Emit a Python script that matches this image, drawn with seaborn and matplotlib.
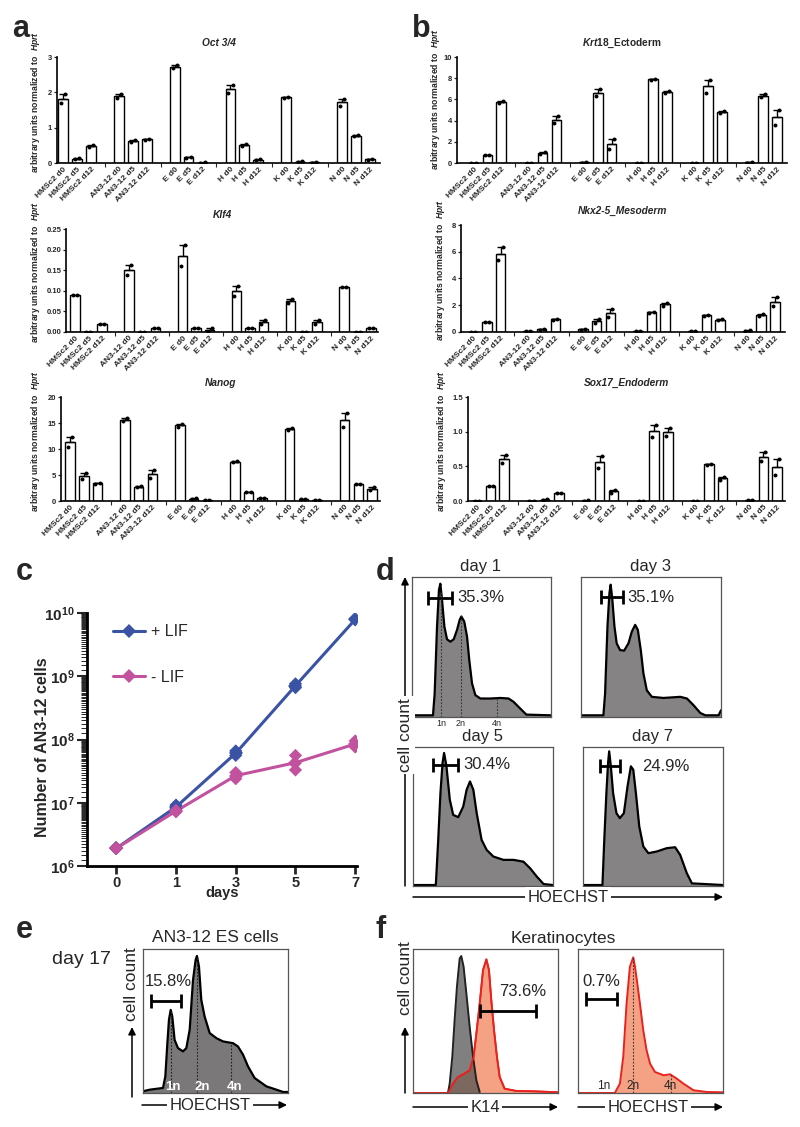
import numpy as np
import pandas as pd
import matplotlib
matplotlib.use("Agg")
import matplotlib.pyplot as plt
import seaborn as sns
from matplotlib.ticker import LogLocator, NullFormatter, FormatStrFormatter

# ------------------------------------------------------------------ data
SAMPLES = ["HMSc2 d0", "HMSc2 d5", "HMSc2 d12", "AN3-12 d0", "AN3-12 d5", "AN3-12 d12",
           "E d0", "E d5", "E d12", "H d0", "H d5", "H d12",
           "K d0", "K d5", "K d12", "N d0", "N d5", "N d12"]

OCT_A = [1.70, 0.11, 0.46, 1.83, 0.60, 0.66, 2.68, 0.14, 0.00, 1.98, 0.49, 0.08, 1.85, 0.03, 0.01, 1.62, 0.76, 0.08]
OCT_B = [1.94, 0.13, 0.50, 1.95, 0.64, 0.69, 2.76, 0.18, 0.02, 2.20, 0.53, 0.10, 1.88, 0.05, 0.03, 1.82, 0.78, 0.12]

KLF_A = [0.090, 0.000, 0.020, 0.138, 0.000, 0.010, 0.160, 0.010, 0.000, 0.088, 0.010, 0.020, 0.070, 0.000, 0.020, 0.110, 0.000, 0.010]
KLF_B = [0.090, 0.000, 0.020, 0.162, 0.000, 0.010, 0.210, 0.010, 0.009, 0.112, 0.010, 0.030, 0.080, 0.000, 0.030, 0.110, 0.000, 0.010]

NANOG_A = [10.3, 4.2, 3.3, 15.3, 2.6, 4.4, 14.3, 0.3, 0.1, 7.5, 1.70, 0.5, 13.7, 0.3, 0.1, 14.2, 3.2, 2.1]
NANOG_B = [12.4, 5.4, 3.5, 16.0, 2.9, 6.0, 14.8, 0.5, 0.1, 7.6, 1.75, 0.5, 14.1, 0.4, 0.1, 16.9, 3.3, 2.7]

KRT_A = [0.00, 0.75, 5.70, 0.00, 0.85, 3.80, 0.04, 6.30, 1.30, 0.00, 7.85, 6.60, 0.00, 6.65, 4.70, 0.04, 6.20, 3.60]
KRT_B = [0.03, 0.80, 5.85, 0.03, 1.00, 4.40, 0.06, 6.95, 2.30, 0.03, 7.95, 6.75, 0.02, 7.85, 4.95, 0.06, 6.50, 5.00]

NKX_A = [0.00, 0.73, 5.35, 0.07, 0.18, 0.93, 0.18, 0.70, 1.15, 0.04, 1.45, 1.98, 0.05, 1.20, 0.90, 0.08, 1.22, 1.95]
NKX_B = [0.03, 0.77, 6.35, 0.09, 0.22, 0.97, 0.22, 0.95, 1.75, 0.06, 1.49, 2.16, 0.07, 1.30, 0.95, 0.12, 1.38, 2.60]

SOX_A = [0.00, 0.215, 0.55, 0.00, 0.01, 0.12, 0.00, 0.48, 0.120, 0.00, 0.93, 0.94, 0.00, 0.525, 0.31, 0.01, 0.58, 0.38]
SOX_B = [0.00, 0.220, 0.67, 0.00, 0.03, 0.12, 0.01, 0.65, 0.165, 0.00, 1.09, 1.06, 0.00, 0.535, 0.35, 0.01, 0.70, 0.61]

DAYS = [0, 1, 3, 5, 7]
PLUS_LIF_1 = [1.9e6, 9.2e6, 6.6e7, 7.6e8, 8.0e9]
PLUS_LIF_2 = [1.9e6, 8.0e6, 5.6e7, 6.6e8, 7.8e9]
MINUS_LIF_1 = [1.9e6, 7.2e6, 3.0e7, 5.6e7, 9.5e7]
MINUS_LIF_2 = [1.9e6, 7.6e6, 2.4e7, 3.3e7, 7.6e7]

# flow histograms (x: % of box width, y: % of box height)
D1_X = [0, 15.1, 16.3, 18.0, 19.4, 20.4, 21.6, 23.3, 25.2, 27.6, 30.0, 32.4, 34.3, 35.5, 37.6, 39.6, 41.2, 43.2, 45.6, 49.2, 56.4, 63.5, 69.5, 73.1, 77.9, 82.3, 100]
D1_Y = [1.2, 1.2, 16.7, 64.6, 90.9, 95.2, 83.7, 64.6, 55.5, 53.8, 55.5, 62.2, 69.4, 71.8, 68.2, 57.4, 40.7, 23.9, 15.6, 13.2, 13.2, 13.6, 13.2, 10.8, 6.0, 1.7, 1.2]
D3_X = [0, 16.0, 17.2, 18.9, 20.3, 21.2, 22.4, 23.9, 25.5, 27.9, 30.8, 33.9, 36.3, 38.7, 40.6, 42.7, 44.6, 47.0, 50.6, 58.9, 70.9, 75.7, 80.4, 85.2, 88.8, 98.3, 100]
D3_Y = [1.2, 1.2, 16.7, 64.6, 88.5, 94.5, 83.7, 64.6, 52.6, 47.8, 47.4, 52.6, 61.0, 65.8, 62.2, 47.8, 31.1, 19.1, 14.4, 13.6, 14.4, 13.2, 8.4, 2.9, 1.2, 1.2, 4.8]
D5_X = [0, 16.3, 17.9, 19.6, 21.1, 22.2, 23.9, 26.3, 28.7, 32.3, 35.9, 38.3, 40.7, 43.1, 45.5, 49.0, 52.6, 57.4, 64.6, 71.8, 78.9, 83.7, 88.5, 93.3, 100]
D5_Y = [0.7, 0.7, 30.8, 66.8, 88.5, 95.7, 86.1, 62.0, 51.2, 49.5, 57.2, 69.2, 75.2, 69.2, 52.4, 33.2, 26.0, 21.2, 18.8, 18.8, 17.5, 12.7, 6.7, 1.4, 0.7]
D7_X = [0, 13.9, 15.1, 16.7, 17.9, 18.7, 19.9, 21.5, 23.9, 26.3, 29.2, 31.8, 34.2, 35.9, 37.8, 40.2, 43.1, 46.7, 52.6, 59.8, 65.8, 69.4, 74.2, 77.8, 100]
D7_Y = [0.7, 0.7, 30.8, 66.8, 88.5, 96.9, 86.1, 66.8, 52.4, 48.8, 52.4, 71.6, 86.1, 83.7, 66.8, 42.8, 28.4, 23.6, 24.8, 27.2, 27.9, 22.4, 9.1, 1.9, 0.7]
E_X = [0, 4.6, 13.8, 15.4, 16.8, 17.9, 19.1, 20.2, 21.8, 24.1, 27.6, 29.9, 32.2, 34.5, 36.3, 37.2, 38.6, 40.2, 42.5, 46.0, 50.6, 55.2, 62.1, 65.5, 69.0, 72.4, 77.0, 85.1, 92.0, 96.6, 100]
E_Y = [1.2, 2.3, 3.5, 11.5, 34.6, 50.8, 57.7, 53.1, 36.9, 31.2, 28.9, 31.2, 43.9, 78.5, 92.4, 95.2, 87.8, 64.7, 53.1, 41.6, 38.1, 35.8, 34.6, 32.3, 26.6, 18.5, 10.4, 4.6, 2.3, 0.7, 0.7]
K14N_X = [24.1, 25.3, 27.1, 28.7, 30.3, 32.2, 33.3, 34.9, 36.8, 39.1, 41.4, 43.7, 46.0]
K14N_Y = [0, 6.5, 25.1, 50.6, 73.8, 93.5, 95.1, 87.7, 69.1, 45.9, 25.1, 8.8, 0.7]
K14P_X = [0, 24.1, 27.6, 31.0, 35.6, 39.1, 41.8, 43.7, 46.0, 48.3, 50.6, 52.4, 54.0, 55.9, 57.9, 59.8, 63.2, 71.3, 82.8, 100]
K14P_Y = [0, 0, 6.5, 11.1, 13.5, 15.8, 25.1, 41.3, 62.2, 85.4, 92.8, 85.4, 64.5, 43.6, 25.1, 11.1, 3.0, 1.4, 1.2, 0.5]
KHO_X = [0, 25.4, 28.9, 31.2, 33.5, 35.8, 38.1, 39.3, 40.9, 42.7, 45.0, 47.3, 49.7, 53.1, 59.1, 63.5, 68.1, 72.7, 79.7, 88.9, 100]
KHO_Y = [0, 0, 6.5, 25.1, 62.2, 87.7, 94.2, 87.7, 76.1, 62.2, 43.6, 29.7, 20.4, 14.6, 12.3, 13.0, 10.0, 6.5, 1.9, 0.7, 0.5]

# ------------------------------------------------------------------ style
sns.set_theme(style="ticks")
plt.rcParams["font.family"] = ["Liberation Sans", "DejaVu Sans"]
plt.rcParams["font.weight"] = "bold"
plt.rcParams["mathtext.fontset"] = "custom"
plt.rcParams["mathtext.rm"] = "Liberation Sans:bold"
plt.rcParams["mathtext.it"] = "Liberation Sans:italic:bold"
plt.rcParams["mathtext.bf"] = "Liberation Sans:bold"

W, H = 800, 1127
fig = plt.figure(figsize=(W / 100, H / 100), dpi=100)


def px_axes(l, t, r, b):
    return fig.add_axes([l / W, 1 - b / H, (r - l) / W, (b - t) / H])


POS = [g * 4 + i for g in range(6) for i in range(3)]
YLAB = r"$\mathbf{arbitrary\ units\ normalized\ to}\ \ \mathit{Hprt}$"


def bar_panel(box, xlim, title, rep_a, rep_b, ymax, ystep, fmt, label_px, label_y=0.58,
              title_style="italic"):
    ax = px_axes(*box)
    n = len(rep_a)
    df = pd.DataFrame({"pos": POS + POS, "val": list(rep_a) + list(rep_b), "rep": [0] * n + [1] * n})
    sns.barplot(data=df, x="pos", y="val", native_scale=True, errorbar=None, color="white",
                saturation=1, edgecolor="black", linewidth=1.0, width=0.7, ax=ax, zorder=2)
    st = df.groupby("pos")["val"].agg(["mean", "sem"])
    ax.errorbar(st.index, st["mean"], yerr=[np.zeros(len(st)), st["sem"].values], fmt="none",
                ecolor="black", elinewidth=1.0, capsize=3, capthick=1.0, zorder=3)
    sns.scatterplot(x=df["pos"] + (df["rep"] - 0.5) * 0.3, y=df["val"], color="black", s=8,
                    linewidth=0, ax=ax, zorder=4, legend=False)
    ax.set_xlim(*xlim)
    ax.set_ylim(0, ymax)
    ax.set_yticks(np.arange(0, ymax + ystep / 2, ystep))
    ax.yaxis.set_major_formatter(FormatStrFormatter(fmt))
    ax.set_xticks(POS)
    ax.set_xticklabels(SAMPLES, rotation=45, ha="right", rotation_mode="anchor", fontsize=6.0)
    ax.set_xticks([3, 7, 11, 15, 19], minor=True)
    ax.tick_params(axis="x", which="minor", length=3, width=0.8)
    ax.tick_params(axis="x", which="major", length=0, pad=2)
    ax.tick_params(axis="y", length=2.5, width=0.9, labelsize=5.5, pad=1)
    ax.set_xlabel("")
    ax.set_ylabel(YLAB, fontsize=6.2)
    ax.yaxis.set_label_coords((label_px - box[0]) / (box[2] - box[0]), label_y)
    sns.despine(ax=ax)
    for s in ("left", "bottom"):
        ax.spines[s].set_linewidth(1.2)
        ax.spines[s].set_color("black")
    ax.set_title(title, fontsize=7.3, fontweight="bold", fontstyle=title_style, pad=8)
    return ax


bar_panel((57, 57, 380, 163), (-0.43, 22.72), "Oct 3/4", OCT_A, OCT_B, 3, 1, "%d", 42)
bar_panel((66, 229, 378, 332), (-0.67, 22.52), "Klf4", KLF_A, KLF_B, 0.25, 0.05, "%.2f", 42)
bar_panel((61, 397, 380, 501), (-0.66, 22.58), "Nanog", NANOG_A, NANOG_B, 20, 5, "%d", 42)
bar_panel((457, 57, 787, 163), (-1.2, 22.72), r"$\mathit{Krt18}\mathbf{\_Ectoderm}$", KRT_A, KRT_B, 10, 2, "%d",
          442, label_y=0.6, title_style="normal")
bar_panel((461, 225, 785, 332), (-0.88, 22.73), "Nkx2-5_Mesoderm", NKX_A, NKX_B, 8, 2, "%d", 447)
bar_panel((468, 397, 785, 501), (-0.66, 22.59), "Sox17_Endoderm", SOX_A, SOX_B, 1.5, 0.5, "%.1f", 448)

# ------------------------------------------------------------------ panel c
PAL = {"+ LIF": "#3A53A4", "- LIF": "#C2519E"}
rows = []
for cond, r1, r2 in [("+ LIF", PLUS_LIF_1, PLUS_LIF_2), ("- LIF", MINUS_LIF_1, MINUS_LIF_2)]:
    for i, d in enumerate(DAYS):
        rows.append((i, r1[i], cond))
        rows.append((i, r2[i], cond))
dfc = pd.DataFrame(rows, columns=["pos", "cells", "cond"])

axc = px_axes(87, 613, 357, 866)
axc.set_yscale("log")
sns.lineplot(data=dfc, x="pos", y="cells", hue="cond", palette=PAL, marker="D", markersize=7,
             markeredgewidth=0, linewidth=2.2, errorbar=None, ax=axc)
sns.scatterplot(data=dfc, x="pos", y="cells", hue="cond", palette=PAL, marker="D", s=45,
                linewidth=0, legend=False, ax=axc, zorder=4)
axc.set_ylim(1e6, 1e10)
axc.set_xlim(-0.49, 4.03)
axc.yaxis.set_major_locator(LogLocator(base=10, numticks=10))
axc.yaxis.set_minor_locator(LogLocator(base=10, subs=np.arange(1.25, 10, 0.25), numticks=200))
axc.yaxis.set_minor_formatter(NullFormatter())
axc.tick_params(axis="y", which="major", length=7, width=1.5, labelsize=11, pad=2)
axc.tick_params(axis="y", which="minor", length=4, width=0.7)
axc.set_xticks(range(len(DAYS)))
axc.set_xticklabels([str(d) for d in DAYS])
axc.tick_params(axis="x", length=6, width=2, labelsize=10.5, pad=1)
sns.despine(ax=axc)
for s in ("left", "bottom"):
    axc.spines[s].set_linewidth(2)
    axc.spines[s].set_color("black")
axc.set_xlabel("days", fontsize=10.5, fontweight="bold", labelpad=-3)
axc.set_ylabel("Number of AN3-12 cells", fontsize=11.5, fontweight="bold")
axc.yaxis.set_label_coords((50 - 87) / 270, 0.47)
axc.legend(frameon=False, loc="upper left", bbox_to_anchor=(0.096, 0.955), borderaxespad=0, borderpad=0,
           prop={"size": 11.5, "weight": "normal"}, labelspacing=1.9, handlelength=2.0, handletextpad=0.4)

# ------------------------------------------------------------------ histograms


def hist_ax(box):
    ax = px_axes(*box)
    ax.set_xlim(0, 100)
    ax.set_ylim(0, 100)
    ax.set_xticks([])
    ax.set_yticks([])
    for s in ax.spines.values():
        s.set_color("#555555")
        s.set_linewidth(0.9)
    return ax


def curve(ax, xs, ys, fill, edge, alpha=1.0, lw=1.6):
    ax.fill_between(xs, 0, ys, color=fill, alpha=alpha, lw=0)
    ax.plot(xs, ys, color=edge, lw=lw)


def gate(ax, x0, x1, y):
    ax.errorbar((x0 + x1) / 2, y, xerr=(x1 - x0) / 2, fmt="none", ecolor="black",
                elinewidth=2, capsize=5, capthick=2)


def dotted(ax, marks, xs, ys, color="#333333"):
    for xv in marks:
        ax.plot([xv, xv], [0, np.interp(xv, xs, ys)], ls=(0, (1.5, 1.5)), lw=0.8, color=color)


NW = dict(fontweight="normal")
GRAY = "#858383"

hd = [((412, 577, 551, 717), D1_X, D1_Y, (11.5, 28.8, 85), (32.9, "35.3%")),
      ((581, 577, 721, 717), D3_X, D3_Y, (14.3, 29.8, 85.6), (33.4, "35.1%")),
      ((413, 747, 553, 886), D5_X, D5_Y, (14.4, 31.8, 87.3), (35.9, "30.4%")),
      ((583, 747, 723, 886), D7_X, D7_Y, (12.0, 26.3, 86.0), (41.9, "24.9%"))]
dax = []
for box, xs, ys, g, (tx, txt) in hd:
    ax = hist_ax(box)
    curve(ax, xs, ys, GRAY, "black")
    gate(ax, *g)
    ax.text(tx, g[2], txt, ha="left", va="center", fontsize=12, **NW)
    dax.append(ax)
dotted(dax[0], [20.9, 35.5, 61.2], D1_X, D1_Y)

# panel e
axe = hist_ax((143, 949, 288, 1093))
curve(axe, E_X, E_Y, "#7a7878", "black")
dotted(axe, [19.1, 37.5, 60.5], E_X, E_Y, color="#222222")
gate(axe, 5.7, 26.4, 64.2)
axe.text(1.1, 77.4, "15.8%", ha="left", va="center", fontsize=12, **NW)
for xv, t in [(20.9, "1n"), (40.7, "2n"), (63.2, "4n")]:
    axe.text(xv, 4.5, t, ha="center", va="center", color="white", fontsize=9.5, fontweight="bold")

# panel f
axf1 = hist_ax((413, 949, 558, 1093))
curve(axf1, K14P_X, K14P_Y, "#F4A184", "#E8231F", lw=1.4)
curve(axf1, K14N_X, K14N_Y, "#555555", "#222222", alpha=0.75, lw=1.4)
axf1.plot(K14P_X, K14P_Y, color="#E8231F", lw=1.2)
gate(axf1, 46.0, 85.1, 57.1)
axf1.text(59.3, 70.3, "73.6%", ha="left", va="center", fontsize=12, **NW)

axf2 = hist_ax((578, 949, 723, 1093))
curve(axf2, KHO_X, KHO_Y, "#F4A184", "#E8231F", lw=1.4)
dotted(axf2, [38.1, 64.0], KHO_X, KHO_Y)
gate(axf2, 5.8, 27.0, 65.2)
axf2.text(3.0, 77.3, "0.7%", ha="left", va="center", fontsize=12, **NW)
for xv, t in [(17.8, "1n"), (38.1, "2n"), (64.0, "4n")]:
    axf2.text(xv, 5.0, t, ha="center", va="center", fontsize=8.5, **NW)

# ------------------------------------------------------------------ overlay texts
ov = fig.add_axes([0, 0, 1, 1])
ov.set_xlim(0, W)
ov.set_ylim(H, 0)
ov.axis("off")
ov.patch.set_visible(False)


def arrow(x0, y0, x1, y1):
    ov.annotate("", xy=(x1, y1), xytext=(x0, y0),
                arrowprops=dict(arrowstyle="-|>", color="black", lw=1.1, mutation_scale=11,
                                shrinkA=0, shrinkB=0))


WB = dict(boxstyle="square,pad=0.15", fc="white", ec="none")

for x, y, t in [(12, 37, "a"), (412, 37, "b"), (16, 580, "c"), (376, 580, "d"), (16, 938, "e"), (376, 938, "f")]:
    ov.text(x, y, t, fontsize=22, fontweight="bold", va="baseline", ha="left")

# panel d
for x, y, t in [(481, 567, "day 1"), (651, 567, "day 3"), (483, 737, "day 5"), (653, 737, "day 7")]:
    ov.text(x, y, t, ha="center", va="center", fontsize=12, **NW)
for x, t in [(441, "1n"), (461, "2n"), (497, "4n")]:
    ov.text(x, 724, t, ha="center", va="center", fontsize=6.5, **NW)
arrow(405, 886, 405, 577)
ov.text(405, 735, "cell count", rotation=90, ha="center", va="center", fontsize=12.5, bbox=WB, zorder=5, **NW)
arrow(413, 897, 723, 897)
ov.text(568, 897, "HOECHST", ha="center", va="center", fontsize=12, bbox=WB, zorder=5, **NW)

# panel e
ov.text(52, 960, "day 17", ha="left", va="center", fontsize=14, **NW)
ov.text(215, 937, "AN3-12 ES cells", ha="center", va="center", fontsize=12.5, **NW)
ov.text(132, 984, "cell count", rotation=90, ha="center", va="center", fontsize=12.5, **NW)
arrow(132, 1097, 132, 1027)
arrow(142, 1105, 287, 1105)
ov.text(210, 1105, "HOECHST", ha="center", va="center", fontsize=12, bbox=WB, zorder=5, **NW)

# panel f
ov.text(563, 938, "Keratinocytes", ha="center", va="center", fontsize=12.5, **NW)
ov.text(405, 978, "cell count", rotation=90, ha="center", va="center", fontsize=12.5, **NW)
arrow(405, 1093, 405, 1027)
arrow(413, 1107, 558, 1107)
ov.text(485, 1107, "K14", ha="center", va="center", fontsize=12, bbox=WB, zorder=5, **NW)
arrow(578, 1107, 723, 1107)
ov.text(648, 1107, "HOECHST", ha="center", va="center", fontsize=12, bbox=WB, zorder=5, **NW)

fig.savefig("out.png", dpi=100)
